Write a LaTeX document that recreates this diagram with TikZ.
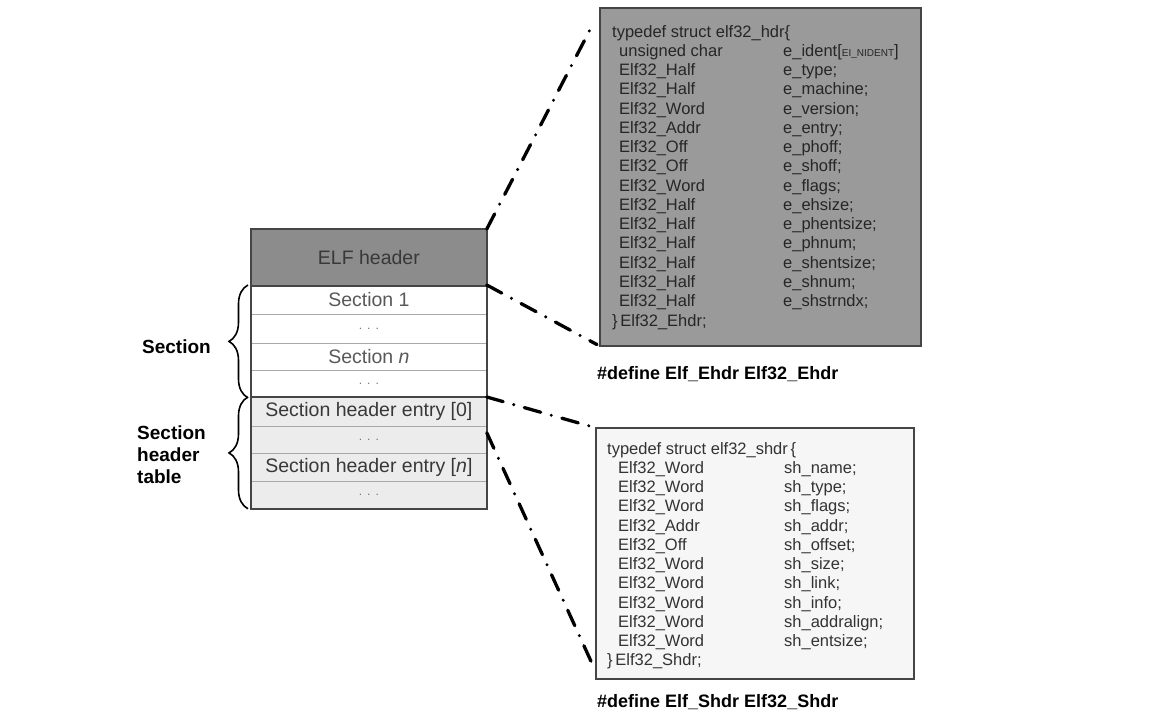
\documentclass[tikz,border=0pt]{standalone}
\usepackage{fontspec}
\setmainfont{Liberation Sans}
\usetikzlibrary{decorations.pathreplacing,calc}
\definecolor{hdrgray}{HTML}{8C8C8C}
\definecolor{structgray}{HTML}{9A9A9A}
\definecolor{shegray}{HTML}{ECECEC}
\definecolor{shbox}{HTML}{F6F6F6}
\definecolor{edgegray}{HTML}{454545}
\definecolor{rowline}{HTML}{A8A8A8}
\begin{document}
\begin{tikzpicture}[x=1pt,y=-1pt,
  row/.style={draw=rowline, line width=0.8pt, minimum width=235pt, inner sep=0pt, anchor=north west,
    font=\fontsize{19.5}{20}\selectfont},
  secrow/.style={row, fill=white, text=black!65},
  sherow/.style={row, fill=shegray, text=black!78},
  dotsrow/.style={text=black!55, font=\fontsize{12}{12}\selectfont},
  lbl/.style={inner sep=0pt, font=\fontsize{19}{22}\selectfont\bfseries, text=black},
  structbox/.style={line width=1.6pt, inner sep=0pt, anchor=north west},
  structtext/.style={inner sep=0pt, anchor=base west, font=\fontsize{16.5}{19.27}\selectfont},
  deflbl/.style={inner sep=0pt, anchor=west, font=\fontsize{18}{20}\selectfont\bfseries},
  conn/.style={line width=3.3pt, line cap=round, dash pattern=on 17pt off 11pt on 0pt off 11pt},
  bracestyle/.style={decorate, decoration={brace, amplitude=19pt}, line width=1.6pt}
]
\useasboundingbox (0,0) rectangle (1162,726);

% ---- stack ----
\node[row, fill=hdrgray, text=black!78, minimum height=56pt] (hdr) at (251,229) {ELF header};
\node[secrow, minimum height=29pt] (s1) at (251,285) {Section 1};
\node[secrow, dotsrow, minimum height=29pt] (d1) at (251,314) {.\hspace{5pt}.\hspace{5pt}.};
\node[secrow, minimum height=27pt] (sn) at (251,343) {Section \textit{n}};
\node[secrow, dotsrow, minimum height=27pt] (d2) at (251,370) {.\hspace{5pt}.\hspace{5pt}.};
\node[sherow, minimum height=29pt] (e0) at (251,397) {Section header entry [0]};
\node[sherow, dotsrow, minimum height=27pt] (d3) at (251,426) {.\hspace{5pt}.\hspace{5pt}.};
\node[sherow, minimum height=28pt] (en) at (251,453) {Section header entry [\textit{n}]};
\node[sherow, dotsrow, minimum height=27pt] (d4) at (251,481) {.\hspace{5pt}.\hspace{5pt}.};
\draw[edgegray, line width=2.6pt] (hdr.north west) rectangle (d4.south east);
\draw[edgegray, line width=1.8pt] (hdr.south west) -- (hdr.south east);
\draw[edgegray, line width=1.8pt] (e0.north west) -- (e0.north east);

% ---- braces and labels ----
\draw[bracestyle] ($(d2.south west)+(-3,0)$) -- ($(s1.north west)+(-3,0)$);
\draw[bracestyle] ($(d4.south west)+(-3,0)$) -- ($(e0.north west)+(-3,0)$);
\node[lbl, anchor=east] (seclbl) at (211,347) {Section};
\node[lbl, anchor=west, align=left] (shtlbl) at (137,455) {Section\\header\\table};

% ---- Ehdr struct ----
\node[structbox, draw=edgegray, fill=structgray, minimum width=321pt, minimum height=338pt] (ehdrbox) at (599,7) {};
\node[structtext, text=black!85] (ehdrtext) at (612,37) {%
\begin{tabular}[t]{@{\hspace{7pt}}p{164pt}@{}l@{}}
\multicolumn{2}{@{}l@{}}{typedef struct elf32\_hdr\{}\\
unsigned char & e\_ident[{\fontsize{10}{10}\selectfont EI\_NIDENT}]\\
Elf32\_Half & e\_type;\\
Elf32\_Half & e\_machine;\\
Elf32\_Word & e\_version;\\
Elf32\_Addr & e\_entry;\\
Elf32\_Off & e\_phoff;\\
Elf32\_Off & e\_shoff;\\
Elf32\_Word & e\_flags;\\
Elf32\_Half & e\_ehsize;\\
Elf32\_Half & e\_phentsize;\\
Elf32\_Half & e\_phnum;\\
Elf32\_Half & e\_shentsize;\\
Elf32\_Half & e\_shnum;\\
Elf32\_Half & e\_shstrndx;\\
\multicolumn{2}{@{}l@{}}{\}\,Elf32\_Ehdr;}
\end{tabular}};
\node[deflbl] (ehdrdef) at (597,374) {\#define Elf\_Ehdr Elf32\_Ehdr};

% ---- Shdr struct ----
\node[structbox, draw=edgegray, fill=shbox, line width=2pt, minimum width=318pt, minimum height=251pt] (shdrbox) at (595,427) {};
\node[structtext, text=black!80] (shdrtext) at (607,454) {%
\begin{tabular}[t]{@{\hspace{11pt}}p{166pt}@{}l@{}}
\multicolumn{2}{@{}l@{}}{typedef struct elf32\_shdr\,\{}\\
Elf32\_Word & sh\_name;\\
Elf32\_Word & sh\_type;\\
Elf32\_Word & sh\_flags;\\
Elf32\_Addr & sh\_addr;\\
Elf32\_Off & sh\_offset;\\
Elf32\_Word & sh\_size;\\
Elf32\_Word & sh\_link;\\
Elf32\_Word & sh\_info;\\
Elf32\_Word & sh\_addralign;\\
Elf32\_Word & sh\_entsize;\\
\multicolumn{2}{@{}l@{}}{\}\,Elf32\_Shdr;}
\end{tabular}};
\node[deflbl] (shdrdef) at (597,702) {\#define Elf\_Shdr Elf32\_Shdr};

% ---- connectors ----
\draw[conn] (hdr.north east) -- ($(ehdrbox.north west)+(-5,15)$);
\draw[conn] (s1.north east) -- ($(ehdrbox.south west)+(-2,-2)$);
\draw[conn] (e0.north east) -- ($(shdrbox.north west)+(-2,0)$);
\draw[conn] ($(e0.south east)+(0,6)$) -- ($(shdrbox.south west)+(0,-10)$);
\end{tikzpicture}
\end{document}
